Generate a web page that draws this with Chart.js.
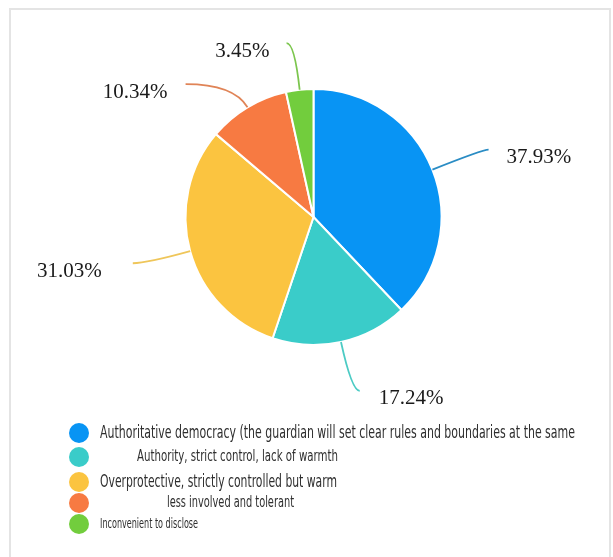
<!DOCTYPE html>
<html>
<head>
<meta charset="utf-8">
<title>Parenting style</title>
<script src="https://cdn.jsdelivr.net/npm/chart.js@4.4.1/dist/chart.umd.min.js"></script>
<style>
  html, body { margin: 0; padding: 0; background: #fff; }
  #wrap { width: 613px; height: 557px; }
</style>
</head>
<body>
<div id="wrap"><canvas id="pieChart" width="613" height="557"></canvas></div>
<script>
const categories = [
  "Authoritative democracy (the guardian will set clear rules and boundaries at the same",
  "Authority, strict control, lack of warmth",
  "Overprotective, strictly controlled but warm",
  "less involved and tolerant",
  "Inconvenient to disclose",
];
const shares = [37.93, 17.24, 31.03, 10.34, 3.45];
const colors = ["#0894f4", "#3accc9", "#fbc440", "#f77a42", "#72cd3d"];
const lineColors = ["#2a8cc4", "#4ccbc4", "#efc65a", "#e08457", "#7cc64e"];

// leader line: radial run, horizontal run, gap before the text
const leaders = [
  { out: 54, run: 6, gap: 18 },
  { out: 50, run: 8, gap: 19 },
  { out: 45, run: 14, gap: 31 },
  { out: 27, run: 48, gap: 18 },
  { out: 47, run: 8, gap: 17 },
];

// legend rows: font size, text indent, squeeze width, row centre
const legendRows = [
  { size: 18.5, x: 100, w: 475, y: 433 },
  { size: 16, x: 137, w: 201, y: 457 },
  { size: 18.5, x: 100, w: 237, y: 482 },
  { size: 16, x: 167, w: 127, y: 503 },
  { size: 14.5, x: 100, w: 98, y: 524 },
];

const framePlugin = {
  id: "frame",
  beforeDraw(chart) {
    const ctx = chart.ctx;
    ctx.save();
    ctx.fillStyle = "#fff";
    ctx.fillRect(0, 0, chart.width, chart.height);
    ctx.strokeStyle = "#e4e4e4";
    ctx.lineWidth = 2;
    ctx.beginPath();
    ctx.moveTo(10, chart.height + 5);
    ctx.lineTo(10, 9);
    ctx.lineTo(610, 9);
    ctx.lineTo(610, chart.height + 5);
    ctx.stroke();
    ctx.restore();
  },
};

const labelPlugin = {
  id: "outLabels",
  afterDatasetsDraw(chart) {
    const ctx = chart.ctx;
    const arcs = chart.getDatasetMeta(0).data;
    ctx.save();
    arcs.forEach((arc, i) => {
      const { x, y, startAngle, endAngle, outerRadius } = arc.getProps(["x", "y", "startAngle", "endAngle", "outerRadius"]);
      const mid = (startAngle + endAngle) / 2;
      const dx = Math.cos(mid), dy = Math.sin(mid);
      const sx = x + dx * outerRadius, sy = y + dy * outerRadius;
      const cfg = leaders[i];
      const cx = sx + dx * cfg.out, cy = sy + dy * cfg.out;
      const side = dx >= 0 ? 1 : -1;
      const ex = cx + side * cfg.run, ey = cy;
      ctx.strokeStyle = lineColors[i];
      ctx.lineWidth = 1.8;
      ctx.beginPath();
      ctx.moveTo(sx, sy);
      ctx.quadraticCurveTo(cx, cy, ex, ey);
      ctx.stroke();

      ctx.fillStyle = "#1a1a1a";
      ctx.font = '21px "Liberation Serif", "Times New Roman", serif';
      ctx.textBaseline = "middle";
      ctx.textAlign = side > 0 ? "left" : "right";
      ctx.fillText(shares[i].toFixed(2) + "%", ex + side * cfg.gap, ey + 8);
    });
    ctx.restore();
  },
};

const legendPlugin = {
  id: "sideLegend",
  afterDraw(chart) {
    const ctx = chart.ctx;
    ctx.save();
    categories.forEach((name, i) => {
      const row = legendRows[i];
      ctx.fillStyle = colors[i];
      ctx.beginPath();
      ctx.arc(79, row.y, 10, 0, Math.PI * 2);
      ctx.fill();
      ctx.fillStyle = "#2e2e2e";
      ctx.font = row.size + 'px "Liberation Sans Narrow", "DejaVu Sans Condensed", "Liberation Sans", sans-serif';
      ctx.textAlign = "left";
      ctx.textBaseline = "middle";
      ctx.fillText(name, row.x, row.y, row.w);
    });
    ctx.restore();
  },
};

document.addEventListener("DOMContentLoaded", () => {
  const ctx = document.getElementById("pieChart").getContext("2d");
  new Chart(ctx, {
    type: "pie",
    data: {
      labels: categories,
      datasets: [{ data: shares, backgroundColor: colors, borderColor: "#fff", borderWidth: 2 }],
    },
    options: {
      responsive: false,
      animation: false,
      devicePixelRatio: 1,
      layout: { padding: { top: 88, bottom: 211, left: 14, right: 0 } },
      plugins: { legend: { display: false }, tooltip: { enabled: false } },
    },
    plugins: [framePlugin, labelPlugin, legendPlugin],
  });
});
</script>
</body>
</html>
